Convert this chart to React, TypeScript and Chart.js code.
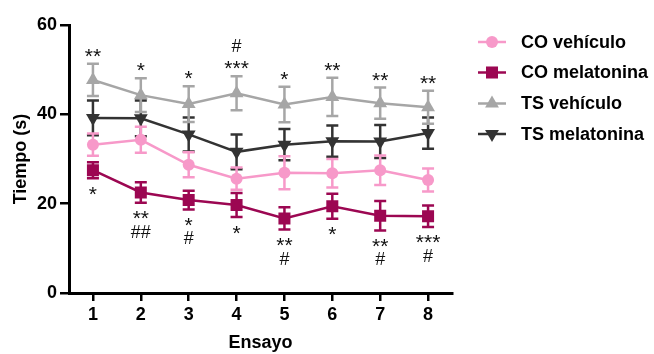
import React, { useEffect, useRef } from "react";
import { Chart, registerables } from "chart.js";

Chart.register(...registerables);

const trials = ["1", "2", "3", "4", "5", "6", "7", "8"];

const coVehMean = [33.2, 34.3, 28.7, 25.6, 26.9, 26.8, 27.5, 25.3];
const coVehErr = [2.5, 2.9, 2.8, 2.5, 3.7, 3.2, 3.3, 2.6];
const coMelMean = [27.5, 22.5, 20.8, 19.7, 16.7, 19.4, 17.3, 17.2];
const coMelErr = [1.8, 2.3, 2.1, 2.7, 2.5, 2.8, 3.3, 2.4];
const tsVehMean = [47.7, 44.3, 42.3, 44.7, 42.2, 43.9, 42.5, 41.6];
const tsVehErr = [3.6, 3.8, 4.0, 3.8, 4.0, 4.3, 3.5, 3.7];
const tsMelMean = [39.2, 39.1, 35.5, 31.6, 33.2, 34.0, 33.9, 35.8];
const tsMelErr = [3.9, 4.0, 3.8, 3.9, 3.5, 3.5, 3.7, 3.5];

const aboveStars = ["**", "*", "*", "***", "*", "**", "**", "**"];
const aboveHash = ["", "", "", "#", "", "", "", ""];
const belowStars = ["*", "**", "*", "*", "**", "*", "**", "***"];
const belowHash = ["", "##", "#", "", "#", "", "#", "#"];

const seriesNames = ["CO vehículo", "CO melatonina", "TS vehículo", "TS melatonina"];
const colors = ["#f799c9", "#9c0752", "#a6a6a6", "#333333"];

const FONT = "'Liberation Sans', Arial, sans-serif";

export default function App() {
  const ref = useRef<HTMLCanvasElement | null>(null);

  useEffect(() => {
    document.body.style.margin = "0";
    const errs = [coVehErr, coMelErr, tsVehErr, tsMelErr];
    const means = [coVehMean, coMelMean, tsVehMean, tsMelMean];

    function drawMarker(ctx: CanvasRenderingContext2D, style: string, r: number, rot: number, x: number, y: number, c: string) {
      ctx.save();
      ctx.fillStyle = c;
      ctx.beginPath();
      if (style === "circle") {
        ctx.arc(x, y, r, 0, Math.PI * 2);
      } else if (style === "rect") {
        const s = Math.SQRT1_2 * r;
        ctx.rect(x - s, y - s, 2 * s, 2 * s);
      } else {
        ctx.translate(x, y);
        ctx.rotate((rot * Math.PI) / 180);
        ctx.moveTo(0, -r);
        ctx.lineTo((r * Math.sqrt(3)) / 2, r / 2);
        ctx.lineTo((-r * Math.sqrt(3)) / 2, r / 2);
        ctx.closePath();
      }
      ctx.fill();
      ctx.restore();
    }

    const errorBars = {
      id: "errorBars",
      beforeDatasetDraw(chart: any, args: any) {
        const i = args.index;
        const ctx = chart.ctx;
        const ys = chart.scales.y;
        const meta = chart.getDatasetMeta(i);
        ctx.save();
        ctx.strokeStyle = colors[i];
        ctx.lineWidth = 2.5;
        meta.data.forEach((pt: any, j: number) => {
          const m = means[i][j];
          const e = errs[i][j];
          const top = ys.getPixelForValue(m + e);
          const bot = ys.getPixelForValue(m - e);
          const x = pt.x;
          ctx.beginPath();
          ctx.moveTo(x, top);
          ctx.lineTo(x, bot);
          ctx.moveTo(x - 6, top);
          ctx.lineTo(x + 6, top);
          ctx.moveTo(x - 6, bot);
          ctx.lineTo(x + 6, bot);
          ctx.stroke();
        });
        ctx.restore();
      },
    };

    const annotations = {
      id: "annotations",
      afterDraw(chart: any) {
        const ctx = chart.ctx;
        const xs = chart.scales.x;
        const ys = chart.scales.y;
        ctx.save();
        ctx.fillStyle = "#111";
        ctx.textAlign = "center";
        ctx.textBaseline = "alphabetic";
        const starFont = `21px ${FONT}`;
        const hashFont = `18px ${FONT}`;
        trials.forEach((_, j) => {
          const x = xs.getPixelForValue(j);
          const top = ys.getPixelForValue(tsVehMean[j] + tsVehErr[j]);
          const bot = ys.getPixelForValue(coMelMean[j] - coMelErr[j]);
          ctx.font = starFont;
          if (aboveStars[j]) ctx.fillText(aboveStars[j], x, top - 1);
          if (belowStars[j]) ctx.fillText(belowStars[j], x, bot + 22.5);
          ctx.font = hashFont;
          if (aboveHash[j]) ctx.fillText(aboveHash[j], x, top - 24);
          if (belowHash[j]) ctx.fillText(belowHash[j], x, bot + 35);
        });

        // legend
        const rows = [42, 72.5, 103.5, 134];
        ctx.font = `bold 18px ${FONT}`;
        ctx.textAlign = "left";
        ctx.textBaseline = "middle";
        const styles = ["circle", "rect", "triangle", "triangle"];
        const radii = [6, 8.5, 8, 8];
        const rots = [0, 0, 0, 180];
        seriesNames.forEach((name, i) => {
          const y = rows[i];
          ctx.strokeStyle = colors[i];
          ctx.lineWidth = 2.5;
          ctx.beginPath();
          ctx.moveTo(478, y);
          ctx.lineTo(506, y);
          ctx.stroke();
          drawMarker(ctx, styles[i], radii[i], rots[i], 492, y, colors[i]);
          ctx.fillStyle = "#000";
          ctx.fillText(name, 521, y + 1);
        });
        ctx.restore();
      },
    };

    const mk = (i: number, data: number[], style: string, radius: number, rotation = 0) => ({
      label: seriesNames[i],
      data,
      borderColor: colors[i],
      backgroundColor: colors[i],
      pointBackgroundColor: colors[i],
      pointBorderColor: colors[i],
      borderWidth: 2.5,
      pointStyle: style,
      pointRadius: radius,
      pointBorderWidth: 0,
      pointRotation: rotation,
      tension: 0,
    });

    const chart = new Chart(ref.current as HTMLCanvasElement, {
      type: "line",
      data: {
        labels: trials,
        datasets: [
          mk(0, coVehMean, "circle", 6),
          mk(1, coMelMean, "rect", 8.5),
          mk(2, tsVehMean, "triangle", 8),
          mk(3, tsMelMean, "triangle", 8, 180),
        ],
      },
      options: {
        responsive: false,
        animation: false,
        devicePixelRatio: 1,
        layout: { padding: { left: 0, top: 25, right: 202, bottom: 0 } },
        plugins: { legend: { display: false }, tooltip: { enabled: false } },
        scales: {
          x: {
            type: "category",
            offset: true,
            grid: { offset: false, drawOnChartArea: false, drawTicks: true, tickLength: 8, color: "#000", lineWidth: 2.5 },
            border: { color: "#000", width: 3 },
            ticks: { color: "#000", font: { family: FONT, size: 18, weight: "bold" }, padding: 3, maxRotation: 0 },
            title: { display: true, text: "Ensayo", color: "#000", font: { family: FONT, size: 18, weight: "bold" }, padding: { top: 0, bottom: 0 } },
            afterFit: (s: any) => { s.height = 61; },
          },
          y: {
            min: 0,
            max: 60,
            ticks: { stepSize: 20, color: "#000", font: { family: FONT, size: 18, weight: "bold" }, padding: 3 },
            grid: { drawOnChartArea: false, drawTicks: true, tickLength: 9, color: "#000", lineWidth: 2.5 },
            border: { color: "#000", width: 3 },
            title: { display: true, text: "Tiempo (s)", color: "#000", font: { family: FONT, size: 18, weight: "bold" }, padding: { top: 10, bottom: 0 } },
            afterFit: (s: any) => { s.width = 69; },
          },
        },
      } as any,
      plugins: [errorBars, annotations],
    });
    return () => chart.destroy();
  }, []);

  return (
    <div style={{ width: 654, height: 354 }}>
      <canvas ref={ref} width={654} height={354} style={{ display: "block" }} />
    </div>
  );
}
